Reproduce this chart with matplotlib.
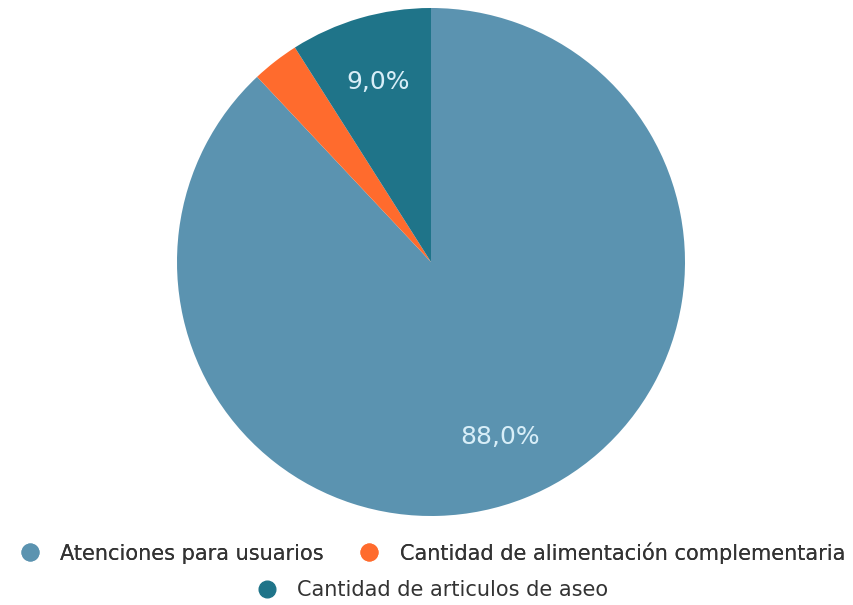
import matplotlib
matplotlib.use("Agg")
import matplotlib.pyplot as plt
from matplotlib.lines import Line2D

categories = ["Atenciones para usuarios", "Cantidad de alimentación complementaria", "Cantidad de articulos de aseo"]
values = [88.0, 3.0, 9.0]
colors = ["#5b93b0", "#ff6b2d", "#1f7489"]

plt.rcParams['font.family'] = ['DejaVu Sans']

fig = plt.figure(figsize=(8.54, 6.05), dpi=100)
ax = fig.add_axes([177/854, 89/605, 508/854, 508/605])

def fmt(p):
    if p < 5:
        return ""
    return f"{p:.1f}".replace(".", ",") + "%"

wedges, texts, autotexts = ax.pie(values, colors=colors, startangle=90, counterclock=False,
                                  autopct=fmt, pctdistance=0.74, radius=1.0,
                                  wedgeprops=dict(linewidth=0),
                                  textprops=dict(color="#d8eef8", fontsize=18))
ax.set_xlim(-1, 1)
ax.set_ylim(-1, 1)
ax.set_aspect("equal")
ax.axis("off")

def handle(c):
    return Line2D([], [], marker="o", linestyle="none", markersize=12,
                  markerfacecolor=c, markeredgecolor=c)

leg1 = fig.legend([handle(colors[0]), handle(colors[1])], categories[:2], ncol=2,
                  loc="center", bbox_to_anchor=(0.5, 1 - 553/605), frameon=False,
                  fontsize=15, handletextpad=0.45, columnspacing=1.2, labelcolor="#333333",
                  borderpad=0, borderaxespad=0)
leg2 = fig.legend([handle(colors[2])], categories[2:], ncol=1,
                  loc="center", bbox_to_anchor=(0.5, 1 - 590/605), frameon=False,
                  fontsize=15, handletextpad=0.45, labelcolor="#333333",
                  borderpad=0, borderaxespad=0)
fig.add_artist(leg1)

fig.savefig("out.png", dpi=100)
